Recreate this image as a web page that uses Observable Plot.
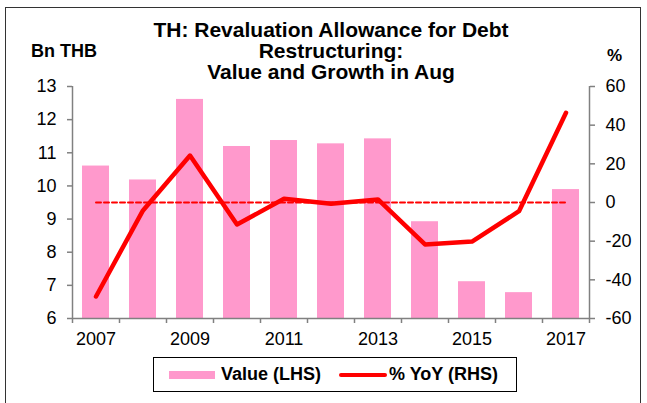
<!DOCTYPE html>
<html>
<head>
<meta charset="utf-8">
<script src="https://cdn.jsdelivr.net/npm/d3@7"></script>
<script src="https://cdn.jsdelivr.net/npm/@observablehq/plot@0.6"></script>
<style>
  html, body { margin: 0; padding: 0; background: #fff; }
  #wrap { position: relative; width: 647px; height: 403px; overflow: hidden; font-family: "Liberation Sans", Arial, sans-serif; color: #000; }
  #frame { position: absolute; left: 5px; top: 7px; width: 636px; height: 420px; border: 1px solid #333; box-sizing: border-box; }
  #chart { position: absolute; left: 0; top: 0; }
  #title { position: absolute; left: 110px; width: 442px; top: 19px; text-align: center; font-weight: bold; font-size: 21px; line-height: 21px; }
  #lunit { position: absolute; left: 31px; top: 41px; font-weight: bold; font-size: 18px; }
  #runit { position: absolute; left: 607px; top: 46px; font-weight: bold; font-size: 17px; }
  #legend { position: absolute; left: 153px; top: 357px; width: 364px; height: 35px; border: 1px solid #000; box-sizing: border-box; font-weight: bold; font-size: 18px; }
  .item { position: absolute; top: 0; height: 33px; display: flex; align-items: center; }
  .sw-bar { width: 46px; height: 8px; background: #FF99CC; margin-right: 6px; }
  .sw-line { width: 48px; height: 4px; background: #FF0000; border-radius: 2px; margin-right: 2px; }
</style>
</head>
<body>
<div id="wrap">
  <div id="frame"></div>
  <div id="chart"></div>
  <div id="title"></div>
  <div id="lunit"></div>
  <div id="runit"></div>
  <div id="legend"></div>
</div>
<script>
// ---- data ----
const years = [2007, 2008, 2009, 2010, 2011, 2012, 2013, 2014, 2015, 2016, 2017];
const values = [10.6, 10.18, 12.61, 11.19, 11.37, 11.27, 11.42, 8.92, 7.11, 6.78, 9.89];
const yoy = [-48.6, -4.1, 24.3, -11.4, 1.9, -0.7, 1.6, -21.7, -20.2, -4.5, 46.4];
const leftTicks = [6, 7, 8, 9, 10, 11, 12, 13];
const rightTicks = [-60, -40, -20, 0, 20, 40, 60];
const xTickLabels = [2007, 2009, 2011, 2013, 2015, 2017];
const titleLines = ["TH: Revaluation Allowance for Debt", "Restructuring:", "Value and Growth in Aug"];
const leftUnit = "Bn THB";
const rightUnit = "%";
const seriesNames = ["Value (LHS)", "% YoY (RHS)"];

// ---- build ----
const leftDomain = [6, 13];
const rightDomain = [-60, 60];
const toLeft = p => leftDomain[0] + (p - rightDomain[0]) / (rightDomain[1] - rightDomain[0]) * (leftDomain[1] - leftDomain[0]);
const fromLeft = v => rightDomain[0] + (v - leftDomain[0]) / (leftDomain[1] - leftDomain[0]) * (rightDomain[1] - rightDomain[0]);

const table = years.map((y, i) => ({year: y, value: values[i], yoy: yoy[i]}));

const W = 647, H = 403, mL = 72, mR = 58, mT = 86, mB = 85;
const step = (W - mL - mR) / years.length;
const axisGray = "#808080";

const plot = Plot.plot({
  width: W, height: H,
  marginLeft: mL, marginRight: mR, marginTop: mT, marginBottom: mB,
  style: {fontFamily: "'Liberation Sans', Arial, sans-serif", fontSize: "18px", color: "#000", background: "transparent", overflow: "visible"},
  x: {type: "band", domain: years, paddingInner: 0.42, paddingOuter: 0.21, align: 0.5},
  y: {domain: leftDomain},
  marks: [
    Plot.barY(table, {x: "year", y1: leftDomain[0], y2: "value", fill: "#FF99CC"}),
    Plot.line([years[0], years[years.length - 1]], {x: d => d, y: () => toLeft(0), stroke: "#FF0000", strokeWidth: 2, strokeDasharray: "5,3"}),
    Plot.line(table, {x: "year", y: d => toLeft(d.yoy), stroke: "#FF0000", strokeWidth: 4.5, strokeLinejoin: "round", strokeLinecap: "round"}),
    // axis lines
    Plot.ruleY([leftDomain[0]], {stroke: axisGray, strokeWidth: 1.5}),
    Plot.ruleX([years[0]], {x: d => d, dx: -step / 2, stroke: axisGray, strokeWidth: 1.5}),
    Plot.ruleX([years[years.length - 1]], {x: d => d, dx: step / 2, stroke: axisGray, strokeWidth: 1.5}),
    // x ticks at category boundaries
    Plot.ruleX(years, {x: d => d, dx: -step / 2, y1: leftDomain[0], y2: leftDomain[0], insetBottom: -5, stroke: axisGray, strokeWidth: 1.5}),
    Plot.ruleX([years[years.length - 1]], {x: d => d, dx: step / 2, y1: leftDomain[0], y2: leftDomain[0], insetBottom: -5, stroke: axisGray, strokeWidth: 1.5}),
    Plot.axisX(xTickLabels, {tickSize: 0, tickPadding: 14, tickFormat: d => String(d), fill: "#000", label: null}),
    Plot.axisY(leftTicks, {anchor: "left", tickSize: 5, tickPadding: 11, stroke: axisGray, strokeWidth: 1.5, fill: "#000", label: null}),
    Plot.axisY(rightTicks.map(toLeft), {anchor: "right", tickSize: 5, tickPadding: 11, stroke: axisGray, strokeWidth: 1.5, fill: "#000", label: null, tickFormat: d => String(Math.round(fromLeft(d)))})
  ]
});
document.getElementById("chart").appendChild(plot);

document.getElementById("title").innerHTML = titleLines.join("<br>");
document.getElementById("lunit").textContent = leftUnit;
document.getElementById("runit").textContent = rightUnit;

const legend = document.getElementById("legend");
const it1 = document.createElement("div");
it1.className = "item"; it1.style.left = "15px";
it1.innerHTML = '<span class="sw-bar"></span><span></span>';
it1.lastChild.textContent = seriesNames[0];
const it2 = document.createElement("div");
it2.className = "item"; it2.style.left = "185px";
it2.innerHTML = '<span class="sw-line"></span><span></span>';
it2.lastChild.textContent = seriesNames[1];
legend.appendChild(it1); legend.appendChild(it2);
</script>
</body>
</html>
